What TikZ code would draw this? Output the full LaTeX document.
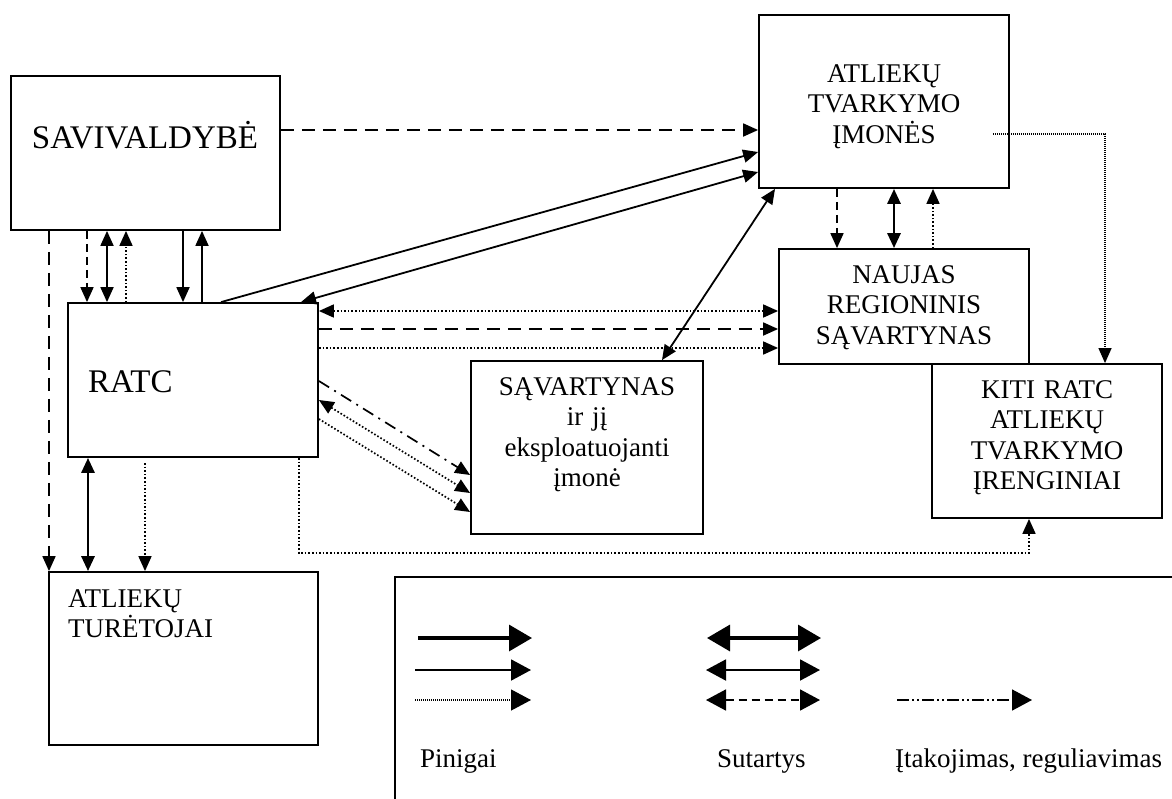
\documentclass[tikz,border=0pt]{standalone}
\usepackage{fontspec}
\setmainfont{Liberation Serif}
\usetikzlibrary{arrows.meta,calc}

\begin{document}
\begin{tikzpicture}[x=1pt,y=-1pt,
  box/.style={draw,line width=1.8pt,inner sep=0pt},
  lbl/.style={inner sep=0pt,font=\fontsize{27}{30.5}\selectfont},
  big/.style={inner sep=0pt,font=\fontsize{33}{38}\selectfont},
  tip/.style={-{Triangle[length=15pt,width=13pt]}},
  both/.style={{Triangle[length=15pt,width=13pt]}-{Triangle[length=15pt,width=13pt]}},
  ltip/.style={-{Triangle[length=20pt,width=21pt]}},
  lboth/.style={{Triangle[length=20pt,width=21pt]}-{Triangle[length=20pt,width=21pt]}},
  lbigtip/.style={-{Triangle[length=23pt,width=26pt]}},
  lbigboth/.style={{Triangle[length=23pt,width=26pt]}-{Triangle[length=23pt,width=26pt]}},
  plain/.style={line width=1.8pt},
  heavy/.style={line width=2.9pt},
  dsh/.style={line width=1.8pt,dash pattern=on 13pt off 8pt},
  sdsh/.style={line width=1.7pt,dash pattern=on 8pt off 5pt},
  dots/.style={line width=1.7pt,dash pattern=on 1.6pt off 2pt},
  fdots/.style={line width=1.2pt,dash pattern=on 1pt off 1pt},
  dashdot/.style={line width=1.7pt,dash pattern=on 12pt off 6pt on 2pt off 6pt},
  dashdotdot/.style={line width=1.6pt,dash pattern=on 12pt off 3pt on 2pt off 3pt on 2pt off 3pt},
]
\path[use as bounding box,fill=white] (0,0) rectangle (1172,798);

% boxes
\node[box,minimum width=269pt,minimum height=154pt] (sav)  at (145.5,153)   {};
\node[box,minimum width=250pt,minimum height=154pt] (ratc) at (193,380)     {};
\node[box,minimum width=250pt,minimum height=173pt] (atl)  at (884,101.5)   {};
\node[box,minimum width=250pt,minimum height=115pt] (nau)  at (904,306.5)   {};
\node[box,minimum width=232pt,minimum height=173pt] (sva)  at (587,447.5)   {};
\node[box,minimum width=230pt,minimum height=154pt] (kiti) at (1047,441)    {};
\node[box,minimum width=269pt,minimum height=173pt] (tur)  at (183.5,658.5) {};
\node[box,minimum width=785pt,minimum height=230pt] (leg)  at (787.5,692)   {};

% box texts
\node[big,anchor=base] (savt) at (145,148) {SAVIVALDYBĖ};
\node[big,anchor=base west] (ratct) at (88,392) {RATC};
\node[lbl,anchor=base,align=center,text width=240pt] (atlt) at (884,82) {ATLIEKŲ\\TVARKYMO\\ĮMONĖS};
\node[lbl,anchor=base,align=center,text width=240pt] (naut) at (904,283) {NAUJAS\\REGIONINIS\\SĄVARTYNAS};
\node[lbl,anchor=base,align=center,text width=225pt] (svat) at (587,395) {SĄVARTYNAS\\ir jį\\eksploatuojanti\\įmonė};
\node[lbl,anchor=base,align=center,text width=225pt] (kitit) at (1047,398) {KITI RATC\\ATLIEKŲ\\TVARKYMO\\ĮRENGINIAI};
\node[lbl,anchor=base west,align=left,text width=240pt] (turt) at (68,607) {ATLIEKŲ\\TURĖTOJAI};

% SAVIVALDYBĖ -- ATLIEKŲ TVARKYMO ĮMONĖS
\draw[dsh,tip] (sav.east |- 0,130) -- (atl.west |- 0,130);

% RATC -- ATLIEKŲ TVARKYMO ĮMONĖS
\draw[plain,tip] (221,0 |- ratc.north) -- (atl.west |- 0,152);
\draw[plain,both] (atl.west |- 0,172) -- (301,0 |- ratc.north);

% SĄVARTYNAS -- ATLIEKŲ TVARKYMO ĮMONĖS
\draw[plain,both] (662,0 |- sva.north) -- (775,0 |- atl.south);

% SAVIVALDYBĖ -- RATC and ATLIEKŲ TURĖTOJAI
\draw[dsh,tip] (49,0 |- sav.south) -- (49,0 |- tur.north);
\draw[sdsh,tip] (87,0 |- sav.south) -- (87,0 |- ratc.north);
\draw[plain,both] (107,0 |- sav.south) -- (107,0 |- ratc.north);
\draw[dots,tip] (126,0 |- ratc.north) -- (126,0 |- sav.south);
\draw[plain,tip] (183,0 |- sav.south) -- (183,0 |- ratc.north);
\draw[plain,tip] (202,0 |- ratc.north) -- (202,0 |- sav.south);

% RATC -- ATLIEKŲ TURĖTOJAI
\draw[heavy,both] (88,0 |- ratc.south) -- (88,0 |- tur.north);
\draw[dots,tip] (145,463) -- (145,0 |- tur.north);

% RATC -- KITI RATC
\draw[dots,tip] (299,0 |- ratc.south) -- (299,553) -- (1029,553) -- (1029,0 |- kiti.south);

% RATC -- NAUJAS REGIONINIS SĄVARTYNAS
\draw[dots,both] (ratc.east |- 0,311) -- (nau.west |- 0,311);
\draw[dsh,tip] (ratc.east |- 0,329) -- (nau.west |- 0,329);
\draw[dots,tip] (ratc.east |- 0,348) -- (nau.west |- 0,348);

% RATC -- SĄVARTYNAS
\draw[dashdot,tip] (ratc.east |- 0,381) -- (sva.west |- 0,475);
\draw[dots,both] (ratc.east |- 0,400) -- (sva.west |- 0,493);
\draw[dots,tip] (ratc.east |- 0,419) -- (sva.west |- 0,512);

% ATLIEKŲ TVARKYMO ĮMONĖS -- NAUJAS REGIONINIS SĄVARTYNAS
\draw[sdsh,tip] (837,0 |- atl.south) -- (837,0 |- nau.north);
\draw[heavy,both] (894,0 |- atl.south) -- (894,0 |- nau.north);
\draw[dots,tip] (933,0 |- nau.north) -- (933,0 |- atl.south);

% ATLIEKŲ TVARKYMO ĮMONĖS -- KITI RATC
\draw[fdots,tip] ($(atl.east |- 0,134)+(-17,0)$) -- (1105,134) -- (1105,0 |- kiti.north);

% legend samples
\coordinate (m1a) at (418,638); \coordinate (m1b) at (532,638);
\coordinate (m2a) at (415,670); \coordinate (m2b) at (531,670);
\coordinate (m3a) at (415,700); \coordinate (m3b) at (531,700);
\coordinate (s1a) at (707,638); \coordinate (s1b) at (821,638);
\coordinate (s2a) at (706,670); \coordinate (s2b) at (820,670);
\coordinate (s3a) at (706,700); \coordinate (s3b) at (820,700);
\coordinate (r1a) at (897,700); \coordinate (r1b) at (1032,700);

\draw[line width=3.3pt,lbigtip] (m1a) -- (m1b);
\draw[line width=1.9pt,ltip] (m2a) -- (m2b);
\draw[fdots,ltip] (m3a) -- (m3b);
\draw[line width=3.3pt,lbigboth] (s1a) -- (s1b);
\draw[line width=1.9pt,lboth] (s2a) -- (s2b);
\draw[sdsh,lboth] (s3a) -- (s3b);
\draw[dashdotdot,ltip] (r1a) -- (r1b);

\node[lbl,anchor=base west] (lp) at (420,767) {Pinigai};
\node[lbl,anchor=base west] (ls) at (717,767) {Sutartys};
\node[lbl,anchor=base west] (li) at (895,767) {Įtakojimas, reguliavimas};
\end{tikzpicture}
\end{document}
